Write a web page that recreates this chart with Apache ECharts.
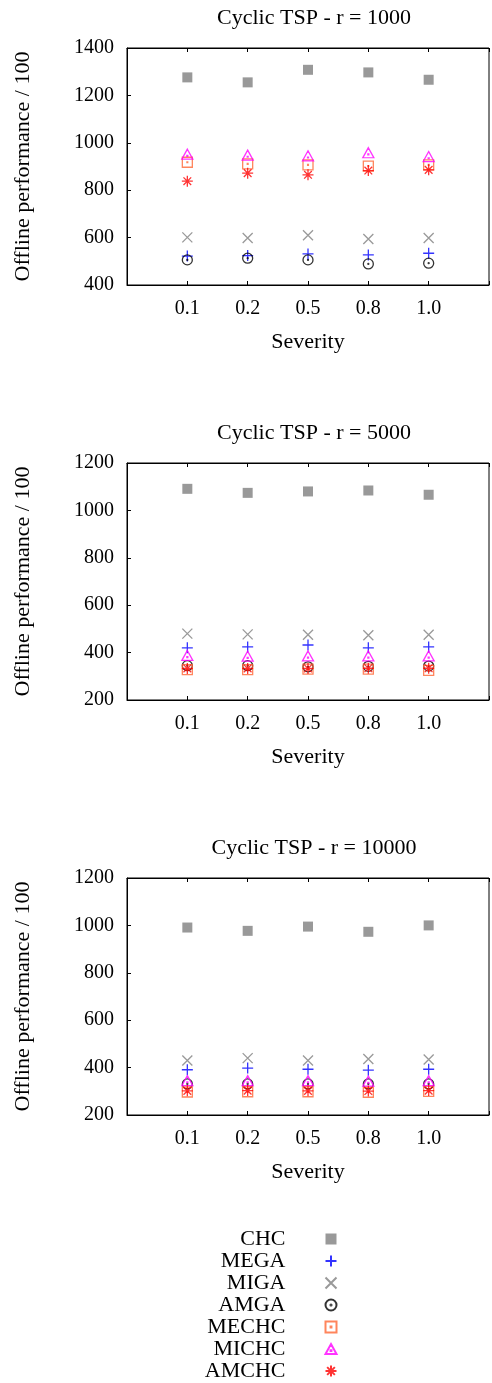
<!DOCTYPE html>
<html>
<head>
<meta charset="utf-8">
<script src="https://cdn.jsdelivr.net/npm/echarts@6/dist/echarts.min.js"></script>
<style>html,body{margin:0;padding:0;background:#fff;}#c{width:492px;height:1383px;}</style>
</head>
<body>
<div id="c"></div>
<script>
var categories = ['0.1', '0.2', '0.5', '0.8', '1.0'];
var titles = ['Cyclic TSP - r = 1000', 'Cyclic TSP - r = 5000', 'Cyclic TSP - r = 10000'];
var yTicks = [[400, 1400, 200], [200, 1200, 200], [200, 1200, 200]];
var seriesNames = ['CHC', 'MEGA', 'MIGA', 'AMGA', 'MECHC', 'MICHC', 'AMCHC'];

// panel 1: r = 1000
var r1000_CHC   = [1276, 1255, 1308, 1297, 1266];
var r1000_MEGA  = [522, 524, 531, 527, 534];
var r1000_MIGA  = [601, 598, 610, 594, 598];
var r1000_AMGA  = [506, 513, 506, 489, 492];
var r1000_MECHC = [918, 911, 907, 902, 907];
var r1000_MICHC = [952, 948, 945, 958, 942];
var r1000_AMCHC = [838, 872, 865, 883, 886];
// panel 2: r = 5000
var r5000_CHC   = [1091, 1074, 1080, 1084, 1066];
var r5000_MEGA  = [420, 424, 432, 420, 424];
var r5000_MIGA  = [480, 477, 475, 473, 475];
var r5000_AMGA  = [345, 345, 340, 342, 343];
var r5000_MECHC = [328, 328, 330, 330, 325];
var r5000_MICHC = [388, 385, 386, 386, 386];
var r5000_AMCHC = [333, 333, 333, 334, 334];
// panel 3: r = 10000
var r10000_CHC   = [991, 977, 995, 973, 1000];
var r10000_MEGA  = [391, 398, 393, 389, 393];
var r10000_MIGA  = [430, 440, 430, 436, 434];
var r10000_AMGA  = [331, 331, 331, 331, 331];
var r10000_MECHC = [297, 298, 298, 296, 300];
var r10000_MICHC = [345, 345, 345, 343, 345];
var r10000_AMCHC = [302, 303, 302, 301, 303];

var panels = [
  [r1000_CHC, r1000_MEGA, r1000_MIGA, r1000_AMGA, r1000_MECHC, r1000_MICHC, r1000_AMCHC],
  [r5000_CHC, r5000_MEGA, r5000_MIGA, r5000_AMGA, r5000_MECHC, r5000_MICHC, r5000_AMCHC],
  [r10000_CHC, r10000_MEGA, r10000_MIGA, r10000_AMGA, r10000_MECHC, r10000_MICHC, r10000_AMCHC]
];

var FONT = 'Liberation Serif';
var styles = {
  CHC:   {symbol: 'rect', size: 10, itemStyle: {color: '#808080'}},
  MEGA:  {symbol: 'path://M0,5L10,5M5,0L5,10', size: 11, itemStyle: {color: 'none', borderColor: '#0000ff', borderWidth: 1.3}},
  MIGA:  {symbol: 'path://M0,0L10,10M10,0L0,10', size: 10, itemStyle: {color: 'none', borderColor: '#808080', borderWidth: 1.3}},
  AMGA:  {symbol: 'path://M0,5A5,5,0,1,1,10,5A5,5,0,1,1,0,5ZM4.5,5A0.5,0.5,0,1,1,5.5,5A0.5,0.5,0,1,1,4.5,5Z', size: 10, itemStyle: {color: 'none', borderColor: '#000000', borderWidth: 1.3}},
  MECHC: {symbol: 'path://M0,0L10,0L10,10L0,10ZM4.6,4.6L5.4,4.6L5.4,5.4L4.6,5.4Z', size: 10, itemStyle: {color: 'none', borderColor: '#ff6633', borderWidth: 1.3}},
  MICHC: {symbol: 'path://M5,0L10,9L0,9ZM4.6,5.6L5.4,5.6L5.4,6.4L4.6,6.4Z', size: [11, 10], itemStyle: {color: 'none', borderColor: '#ff00ff', borderWidth: 1.3}},
  AMCHC: {symbol: 'path://M0,5L10,5M5,0L5,10M1.5,1.5L8.5,8.5M8.5,1.5L1.5,8.5', size: 11, itemStyle: {color: 'none', borderColor: '#ff0000', borderWidth: 1.3}}
};

var gridTops = [48, 463, 878];
var gridH = 237;
var titleTops = [2, 417, 832];

var grids = [], xAxes = [], yAxes = [], series = [], titleArr = [];
gridTops.forEach(function (top, p) {
  grids.push({left: 127, top: top, width: 372, height: gridH, show: true, borderColor: '#000', borderWidth: 1, containLabel: false});
  titleArr.push({text: titles[p], left: 309, top: titleTops[p], textAlign: 'center',
    textStyle: {fontFamily: FONT, fontSize: 22, fontWeight: 'normal', color: '#000'}});
  xAxes.push({
    type: 'value', gridIndex: p, min: 0, max: 6, interval: 1, position: 'bottom',
    name: 'Severity', nameLocation: 'middle', nameGap: 46,
    nameTextStyle: {fontFamily: FONT, fontSize: 22, color: '#000'},
    axisLine: {show: true, lineStyle: {color: '#000', width: 1}},
    axisTick: {show: true, inside: true, length: 4, lineStyle: {color: '#000'}},
    axisLabel: {fontFamily: FONT, fontSize: 20, color: '#000', margin: 14,
      formatter: function (v) { return (v >= 1 && v <= categories.length) ? categories[v - 1] : ''; }},
    splitLine: {show: false}
  });
  xAxes.push({
    type: 'value', gridIndex: p, min: 0, max: 6, interval: 1, position: 'top',
    axisLine: {show: true, lineStyle: {color: '#000', width: 1}},
    axisTick: {show: true, inside: true, length: 4, lineStyle: {color: '#000'}},
    axisLabel: {show: false}, splitLine: {show: false}
  });
  yAxes.push({
    type: 'value', gridIndex: p, min: yTicks[p][0], max: yTicks[p][1], interval: yTicks[p][2],
    name: 'Offline performance / 100', nameLocation: 'middle', nameGap: 93,
    nameTextStyle: {fontFamily: FONT, fontSize: 22, color: '#000'},
    axisLine: {show: true, lineStyle: {color: '#000', width: 1}},
    axisTick: {show: true, inside: true, length: 4, lineStyle: {color: '#000'}},
    axisLabel: {fontFamily: FONT, fontSize: 20, color: '#000', margin: 13,
      formatter: function (v) { return String(v); }},
    splitLine: {show: false}
  });
  seriesNames.forEach(function (name, s) {
    var st = styles[name];
    series.push({
      type: 'scatter', name: name, xAxisIndex: p * 2, yAxisIndex: p,
      symbol: st.symbol, symbolSize: st.size, itemStyle: st.itemStyle,
      emphasis: {disabled: true}, silent: true,
      data: panels[p][s].map(function (v, i) { return [i + 1, v]; })
    });
  });
});

var chart = echarts.init(document.getElementById('c'), null, {renderer: 'canvas'});
chart.setOption({
  animation: false,
  backgroundColor: '#fff',
  title: titleArr,
  grid: grids,
  xAxis: xAxes,
  yAxis: yAxes,
  legend: {
    data: seriesNames, orient: 'vertical', align: 'right',
    right: 148, top: 1223, height: 160, itemWidth: 11, itemHeight: 11, itemGap: 0,
    selectedMode: false,
    textStyle: {fontFamily: FONT, fontSize: 22, color: '#000', lineHeight: 21.6, padding: [0, 35, 0, 0]}
  },
  series: series
});
</script>
</body>
</html>
